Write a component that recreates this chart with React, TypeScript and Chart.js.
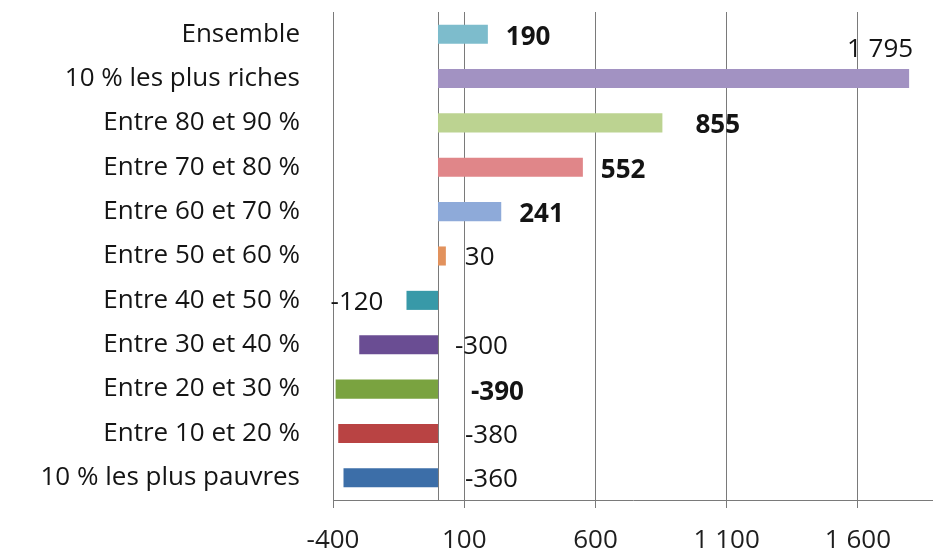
import { useEffect, useRef } from "react";
import { Chart, registerables } from "chart.js";

Chart.register(...registerables);

const categories = [
  "Ensemble",
  "10 % les plus riches",
  "Entre 80 et 90 %",
  "Entre 70 et 80 %",
  "Entre 60 et 70 %",
  "Entre 50 et 60 %",
  "Entre 40 et 50 %",
  "Entre 30 et 40 %",
  "Entre 20 et 30 %",
  "Entre 10 et 20 %",
  "10 % les plus pauvres",
];
const values = [190, 1795, 855, 552, 241, 30, -120, -300, -390, -380, -360];
const valueLabels = ["190", "1\u00a0795", "855", "552", "241", "30", "-120", "-300", "-390", "-380", "-360"];
const tickValues = [-400, 100, 600, 1100, 1600];
const tickLabels = ["-400", "100", "600", "1\u00a0100", "1\u00a0600"];

const barColors = [
  "#7dbccc",
  "#a292c2",
  "#bcd391",
  "#e08689",
  "#8eaad9",
  "#e2925d",
  "#3899a8",
  "#6a4d93",
  "#7aa340",
  "#b94343",
  "#3c6ea8",
];
const labelBold = [true, false, true, true, true, false, false, false, true, false, false];
const labelPlacement = [
  { mode: "end", dx: 18, dy: 3 },
  { mode: "above", dx: 4, dy: -29 },
  { mode: "end", dx: 33, dy: 3 },
  { mode: "end", dx: 18, dy: 3 },
  { mode: "end", dx: 18, dy: 3 },
  { mode: "end", dx: 19, dy: 2 },
  { mode: "before", dx: 23, dy: 2 },
  { mode: "base", dx: 17, dy: 2 },
  { mode: "base", dx: 33, dy: 4 },
  { mode: "base", dx: 27, dy: 2 },
  { mode: "base", dx: 27, dy: 2 },
];

const FONT = "'Open Sans', Lato, sans-serif";

const zeroLinePlugin = {
  id: "zeroLine",
  beforeDatasetsDraw(chart: any) {
    const { ctx, chartArea, scales } = chart;
    const x = Math.round(scales.x.getPixelForValue(0)) + 0.5;
    ctx.save();
    ctx.strokeStyle = "#7a7a7a";
    ctx.lineWidth = 1;
    ctx.beginPath();
    ctx.moveTo(x, chartArea.top);
    ctx.lineTo(x, chartArea.bottom);
    ctx.stroke();
    ctx.restore();
  },
};

const valueLabelPlugin = {
  id: "valueLabels",
  afterDatasetsDraw(chart: any) {
    const { ctx } = chart;
    const meta = chart.getDatasetMeta(0);
    ctx.save();
    ctx.fillStyle = "#141414";
    ctx.textBaseline = "middle";
    meta.data.forEach((bar: any, i: number) => {
      const p = labelPlacement[i];
      ctx.font = `${labelBold[i] ? "bold " : ""}26px ${FONT}`;
      const left = Math.min(bar.x, bar.base);
      const right = Math.max(bar.x, bar.base);
      let x = right + p.dx;
      ctx.textAlign = "left";
      if (p.mode === "above") {
        ctx.textAlign = "right";
        x = right + p.dx;
      } else if (p.mode === "before") {
        ctx.textAlign = "right";
        x = left - p.dx;
      } else if (p.mode === "base") {
        x = bar.base + p.dx;
      }
      ctx.fillText(valueLabels[i], x, bar.y + p.dy);
    });
    ctx.restore();
  },
};

export default function App() {
  const canvasRef = useRef<HTMLCanvasElement | null>(null);

  useEffect(() => {
    if (!canvasRef.current) return;
    const chart = new Chart(canvasRef.current, {
      type: "bar",
      data: {
        labels: categories,
        datasets: [
          {
            data: values,
            backgroundColor: barColors,
            borderWidth: 0,
            categoryPercentage: 1,
            barPercentage: 0.43,
          },
        ],
      },
      options: {
        indexAxis: "y",
        animation: false,
        responsive: false,
        maintainAspectRatio: false,
        layout: { padding: { top: 12, right: 0, left: 0, bottom: 0 } },
        plugins: {
          legend: { display: false },
          tooltip: { enabled: false },
        },
        scales: {
          x: {
            type: "linear",
            min: -400,
            max: 1886,
            afterBuildTicks: (scale: any) => {
              scale.ticks = tickValues.map((v) => ({ value: v }));
            },
            afterFit: (scale: any) => {
              scale.height = 57;
              scale.paddingLeft = 0;
              scale.paddingRight = 0;
            },
            ticks: {
              callback: (v: any) => {
                const idx = tickValues.indexOf(Number(v));
                return idx >= 0 ? tickLabels[idx] : "";
              },
              font: { family: FONT, size: 26 },
              color: "#1e1e1e",
              padding: 17,
              maxRotation: 0,
              autoSkip: false,
            },
            grid: {
              color: "#7a7a7a",
              lineWidth: 1,
              drawTicks: true,
              tickLength: 8,
            },
            border: { display: true, color: "#7a7a7a", width: 1 },
          },
          y: {
            type: "category",
            afterFit: (scale: any) => {
              scale.width = 333;
              scale.paddingTop = 0;
              scale.paddingBottom = 0;
            },
            ticks: {
              font: { family: FONT, size: 26 },
              color: "#141414",
              padding: 33,
              autoSkip: false,
            },
            grid: { display: false, drawTicks: false },
            border: { display: false },
          },
        },
      },
      plugins: [zeroLinePlugin, valueLabelPlugin],
    });
    return () => chart.destroy();
  }, []);

  return (
    <div
      style={{
        position: "fixed",
        left: 0,
        top: 0,
        width: 933,
        height: 557,
        background: "#ffffff",
      }}
    >
      <canvas ref={canvasRef} width={933} height={557} style={{ width: 933, height: 557 }} />
    </div>
  );
}
